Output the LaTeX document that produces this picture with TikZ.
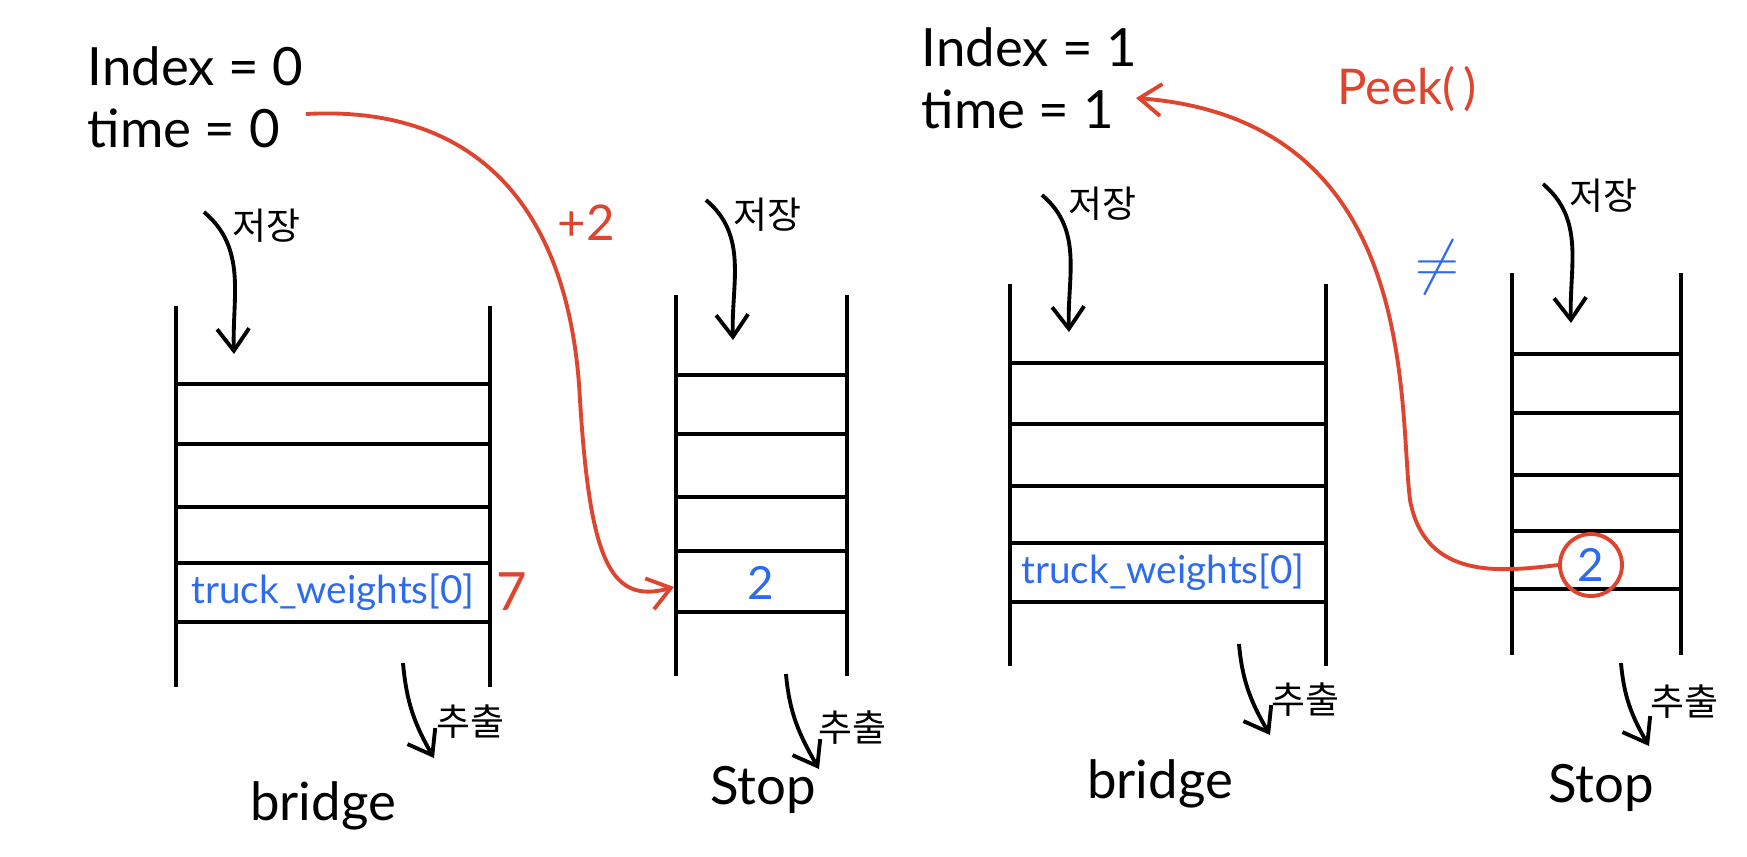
\documentclass[tikz,border=0pt]{standalone}
\usepackage{fontspec}
\usetikzlibrary{arrows.meta}
\setmainfont{Lato}
\newfontfamily\krfont{Noto Sans CJK KR}
\definecolor{penred}{RGB}{222,68,46}
\definecolor{penblue}{RGB}{45,107,238}
\begin{document}
\begin{tikzpicture}[x=0.01cm,y=-0.01cm,line width=1.1pt,>={Straight Barb[length=2.2mm,width=3.2mm]},
  lbl/.style={font=\fontsize{15}{18}\selectfont},
  kr/.style={font=\krfont\fontsize{10.5}{12}\selectfont},
  cell/.style={font=\fontsize{11}{13}\selectfont, text=penblue}]
\useasboundingbox (0,0) rectangle (1747,856);
% counters
\node[lbl, anchor=west] (idx0) at (74,66) {Index = 0};
\node[lbl, anchor=west] (time0) at (74,128) {time = 0};
\node[lbl, anchor=west] (idx1) at (908,47) {Index = 1};
\node[lbl, anchor=west] (time1) at (908,109) {time = 1};
% left bridge
\draw (176,306) -- (176,687);
\draw (490,306) -- (490,687);
\draw (176,384) -- (490,384);
\draw (176,444) -- (490,444);
\draw (176,507) -- (490,507);
\draw (176,563) -- (490,563);
\draw (176,622) -- (490,622);
\node[cell] (tw0) at (333,592) {truck\_weights[0]};
\node[font=\fontsize{15}{18}\selectfont, text=penred] (w0) at (512,592) {7};
\node[lbl] (br0) at (323,806) {bridge};
% left stop
\draw (676,295) -- (676,676);
\draw (847,295) -- (847,676);
\draw (676,375) -- (847,375);
\draw (676,434) -- (847,434);
\draw (676,497) -- (847,497);
\draw (676,551) -- (847,551);
\draw (676,612) -- (847,612);
\node[font=\fontsize{13}{16}\selectfont, text=penblue] (st0) at (761,583) {2};
\node[lbl] (sp0) at (763,790) {Stop};
% right bridge
\draw (1010,284) -- (1010,666);
\draw (1326,284) -- (1326,666);
\draw (1010,363) -- (1326,363);
\draw (1010,424) -- (1326,424);
\draw (1010,486) -- (1326,486);
\draw (1010,543) -- (1326,543);
\draw (1010,602) -- (1326,602);
\node[cell] (tw1) at (1163,572) {truck\_weights[0]};
\node[lbl] (br1) at (1160,784) {bridge};
% right stop
\draw (1512,273) -- (1512,655);
\draw (1681,273) -- (1681,655);
\draw (1512,354) -- (1681,354);
\draw (1512,413) -- (1681,413);
\draw (1512,475) -- (1681,475);
\draw (1512,531) -- (1681,531);
\draw (1512,589) -- (1681,589);
\node[circle, draw=penred, minimum size=0.62cm, inner sep=0pt, font=\fontsize{13}{16}\selectfont, text=penblue] (st1) at (1591,565) {2};
\node[lbl] (sp1) at (1601,788) {Stop};
% push / pop labels
\node[kr] (inA) at (266,226) {저장};
\node[kr] (outA) at (470,722) {추출};
\node[kr] (inB) at (767,215) {저장};
\node[kr] (outB) at (852,728) {추출};
\node[kr] (inC) at (1102,204) {저장};
\node[kr] (outC) at (1305,700) {추출};
\node[kr] (inD) at (1603,196) {저장};
\node[kr] (outD) at (1684,702) {추출};
% push / pop arrows
\coordinate (a0) at (204,212); \coordinate (a1) at (234,354);
\coordinate (a2) at (403,663); \coordinate (a3) at (434,758);
\coordinate (b0) at (706,200); \coordinate (b1) at (733,340);
\coordinate (b2) at (786,674); \coordinate (b3) at (819,769);
\coordinate (c0) at (1042,195); \coordinate (c1) at (1069,332);
\coordinate (c2) at (1239,644); \coordinate (c3) at (1270,735);
\coordinate (d0) at (1543,184); \coordinate (d1) at (1571,323);
\coordinate (d2) at (1621,663); \coordinate (d3) at (1649,746);
\draw[->] (a0) to[out=-40,in=92] (a1);
\draw[->] (a2) to[out=-85,in=120] (a3);
\draw[->] (b0) to[out=-40,in=92] (b1);
\draw[->] (b2) to[out=-85,in=120] (b3);
\draw[->] (c0) to[out=-40,in=92] (c1);
\draw[->] (c2) to[out=-85,in=120] (c3);
\draw[->] (d0) to[out=-40,in=92] (d1);
\draw[->] (d2) to[out=-85,in=120] (d3);
% red arrows
\coordinate (go0) at (306,114);
\coordinate (go1) at (674,587);
\draw[->, penred] (go0) .. controls (470,105) and (570,200) .. (580,400)
  .. controls (590,560) and (610,605) .. (go1);
\node[font=\fontsize{14}{17}\selectfont, text=penred] (plus) at (586,223) {+2};
\coordinate (back) at (1136,98);
\draw[->, penred] (st1.west) .. controls (1500,572) and (1425,580) .. (1410,500)
  .. controls (1398,400) and (1420,120) .. (back);
\node[font=\fontsize{14}{17}\selectfont, text=penred] (peek) at (1407,89) {Peek(\,)};
\node[font=\fontsize{16}{19}\selectfont, text=penblue] (neq) at (1437,267) {$\neq$};
\end{tikzpicture}
\end{document}
